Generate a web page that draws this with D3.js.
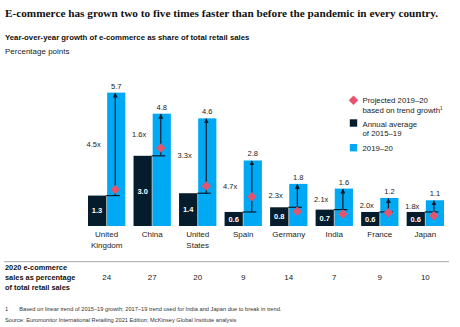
<!DOCTYPE html>
<html>
<head>
<meta charset="utf-8">
<script src="https://cdn.jsdelivr.net/npm/d3@7"></script>
<style>
  body { margin: 0; background: #fff; }
  svg { display: block; }
</style>
</head>
<body>
<svg id="chart" width="460" height="327"></svg>
<script>
// Data
const countries = [["United", "Kingdom"], ["China"], ["United", "States"], ["Spain"], ["Germany"], ["India"], ["France"], ["Japan"]];
const annualAvg = [1.3, 3.0, 1.4, 0.6, 0.8, 0.7, 0.6, 0.6];
const growth2020 = [5.7, 4.8, 4.6, 2.8, 1.8, 1.6, 1.2, 1.1];
const projected = [1.56, 3.33, 1.71, 1.25, 0.63, 0.51, 0.57, 0.44];
const multipliers = ["4.5x", "1.6x", "3.3x", "4.7x", "2.3x", "2.1x", "2.0x", "1.8x"];
const share2020 = [24, 27, 20, 9, 14, 7, 9, 10];

const width = 460;
const height = 327;
const sans = "'Liberation Sans', Arial, sans-serif";
const serif = "'Liberation Serif', 'Times New Roman', serif";
const darkColor = "#051c2c";
const blueColor = "#00a9f4";
const pinkColor = "#e5546c";
const textColor = "#222";

const svg = d3.select("#chart");
const keys = countries.map((c, i) => i);

// Scales
const x = d3.scaleBand()
  .domain(keys)
  .range([88, 444])
  .paddingInner(0.18)
  .paddingOuter(0);

const xInner = d3.scaleBand()
  .domain(["avg", "y2020"])
  .range([0, x.bandwidth()])
  .paddingInner(0.05);

const y = d3.scaleLinear()
  .domain([0, 6])
  .range([226, 226 - 6 * 23.4]);

// Title
svg.append("text")
  .attr("x", 5)
  .attr("y", 17)
  .attr("fill", "#111")
  .attr("font-family", serif)
  .attr("font-weight", "bold")
  .attr("font-size", 11.25)
  .text("E-commerce has grown two to five times faster than before the pandemic in every country.");

svg.append("text")
  .attr("x", 5)
  .attr("y", 39.5)
  .attr("fill", "#111")
  .attr("font-family", sans)
  .attr("font-weight", "bold")
  .attr("font-size", 7.8)
  .text("Year-over-year growth of e-commerce as share of total retail sales");

svg.append("text")
  .attr("x", 5)
  .attr("y", 53.5)
  .attr("fill", textColor)
  .attr("font-family", sans)
  .attr("font-size", 8)
  .text("Percentage points");

// Bars
const groups = svg.append("g")
  .selectAll("g")
  .data(keys)
  .join("g")
  .attr("transform", d => `translate(${x(d)},0)`);

// Light separator behind bars
groups.append("rect")
  .attr("x", xInner("avg") + xInner.bandwidth() - 0.5)
  .attr("y", d => y(annualAvg[d]))
  .attr("width", xInner.step() - xInner.bandwidth() + 1)
  .attr("height", d => y(0) - y(annualAvg[d]))
  .attr("fill", "#b9bfc4");

groups.append("rect")
  .attr("x", xInner("avg"))
  .attr("y", d => y(annualAvg[d]))
  .attr("width", xInner.bandwidth())
  .attr("height", d => y(0) - y(annualAvg[d]))
  .attr("fill", darkColor);

groups.append("rect")
  .attr("x", xInner("y2020"))
  .attr("y", d => y(growth2020[d]))
  .attr("width", xInner.bandwidth())
  .attr("height", d => y(0) - y(growth2020[d]))
  .attr("fill", blueColor);

// Value labels inside dark bars
groups.append("text")
  .attr("x", xInner("avg") + xInner.bandwidth() / 2)
  .attr("y", d => (y(annualAvg[d]) + y(0)) / 2 + 2.7)
  .attr("text-anchor", "middle")
  .attr("fill", "#fff")
  .attr("font-family", sans)
  .attr("font-weight", "bold")
  .attr("font-size", 7.5)
  .text(d => annualAvg[d].toFixed(1));

// Value labels above blue bars
groups.append("text")
  .attr("x", xInner("y2020") + xInner.bandwidth() / 2)
  .attr("y", d => y(growth2020[d]) - 4)
  .attr("text-anchor", "middle")
  .attr("fill", textColor)
  .attr("font-family", sans)
  .attr("font-size", 7.5)
  .text(d => growth2020[d].toFixed(1));

// Arrow marker
svg.append("defs").append("marker")
  .attr("id", "arrowHead")
  .attr("viewBox", "0 0 10 10")
  .attr("refX", 9)
  .attr("refY", 5)
  .attr("markerWidth", 5)
  .attr("markerHeight", 5)
  .attr("markerUnits", "userSpaceOnUse")
  .attr("orient", "auto")
  .append("path")
  .attr("d", "M0,0 L10,5 L0,10 Z")
  .attr("fill", darkColor);

const arrowX = xInner("y2020") + xInner.bandwidth() / 2 - 1;

// Horizontal tick at previous level
groups.append("line")
  .attr("x1", xInner("avg") + xInner.bandwidth())
  .attr("x2", arrowX + 4.5)
  .attr("y1", d => y(annualAvg[d]))
  .attr("y2", d => y(annualAvg[d]))
  .attr("stroke", darkColor)
  .attr("stroke-width", 1.2);

// Vertical arrow
groups.append("line")
  .attr("x1", arrowX)
  .attr("x2", arrowX)
  .attr("y1", d => y(annualAvg[d]))
  .attr("y2", d => y(growth2020[d]) + 0.5)
  .attr("stroke", darkColor)
  .attr("stroke-width", 1.2)
  .attr("marker-end", "url(#arrowHead)");

// Projected diamond
const diamond = d3.symbol().type(d3.symbolSquare).size(45);
groups.append("path")
  .attr("d", diamond)
  .attr("transform", d => `translate(${arrowX},${y(projected[d])}) rotate(45)`)
  .attr("fill", pinkColor);

// Multiplier labels
groups.append("text")
  .attr("x", -1.5)
  .attr("y", d => (y(annualAvg[d]) + y(growth2020[d])) / 2 + 2.6)
  .attr("fill", textColor)
  .attr("font-family", sans)
  .attr("font-size", 7.5)
  .text(d => multipliers[d]);

// Country labels
groups.append("text")
  .attr("x", x.bandwidth() / 2)
  .attr("y", 237)
  .attr("text-anchor", "middle")
  .attr("fill", textColor)
  .attr("font-family", sans)
  .attr("font-size", 8)
  .selectAll("tspan")
  .data(d => countries[d])
  .join("tspan")
  .attr("x", x.bandwidth() / 2)
  .attr("dy", (t, i) => i === 0 ? 0 : 10.6)
  .text(t => t);

// Divider
svg.append("line")
  .attr("x1", 4)
  .attr("x2", 449)
  .attr("y1", 261.7)
  .attr("y2", 261.7)
  .attr("stroke", "#a8a8a8")
  .attr("stroke-width", 1);

// Row label
svg.append("text")
  .attr("x", 5)
  .attr("y", 270)
  .attr("fill", "#111")
  .attr("font-family", sans)
  .attr("font-weight", "bold")
  .attr("font-size", 7.4)
  .selectAll("tspan")
  .data(["2020 e-commerce", "sales as percentage", "of total retail sales"])
  .join("tspan")
  .attr("x", 5)
  .attr("dy", (t, i) => i === 0 ? 0 : 10)
  .text(t => t);

// Share values
svg.append("g")
  .selectAll("text")
  .data(keys)
  .join("text")
  .attr("x", d => x(d) + x.bandwidth() / 2)
  .attr("y", 280)
  .attr("text-anchor", "middle")
  .attr("fill", textColor)
  .attr("font-family", sans)
  .attr("font-size", 8)
  .text(d => share2020[d]);

// Legend
const legend = svg.append("g").attr("transform", "translate(353.5,0)");
legend.append("path")
  .attr("d", diamond)
  .attr("transform", "translate(0,100.3) rotate(45)")
  .attr("fill", pinkColor);
legend.append("rect")
  .attr("x", -3.7).attr("y", 119.3)
  .attr("width", 7.4).attr("height", 7.4)
  .attr("fill", darkColor);
legend.append("rect")
  .attr("x", -3.7).attr("y", 144)
  .attr("width", 7.4).attr("height", 7.4)
  .attr("fill", blueColor);

const legendText = legend.append("text")
  .attr("fill", textColor)
  .attr("font-family", sans)
  .attr("font-size", 7.8);
legendText.append("tspan").attr("x", 9).attr("y", 103).text("Projected 2019–20");
legendText.append("tspan").attr("x", 9).attr("y", 112.6).text("based on trend growth");
legendText.append("tspan").attr("dy", -3).attr("font-size", 4.5).text("1");
legendText.append("tspan").attr("x", 9).attr("y", 126.7).text("Annual average");
legendText.append("tspan").attr("x", 9).attr("y", 136).text("of 2015–19");
legendText.append("tspan").attr("x", 9).attr("y", 150.7).text("2019–20");

// Footnotes
const noteStyle = sel => sel
  .attr("fill", "#333")
  .attr("font-family", sans)
  .attr("font-size", 5.7);
svg.append("text").attr("x", 5).attr("y", 311.2).call(noteStyle).text("1");
svg.append("text").attr("x", 19.3).attr("y", 311.2).call(noteStyle)
  .text("Based on linear trend of 2015–19 growth; 2017–19 trend used for India and Japan due to break in trend.");
svg.append("text").attr("x", 5).attr("y", 322).call(noteStyle)
  .text("Source: Euromonitor International Retailing 2021 Edition; McKinsey Global Institute analysis");
</script>
</body>
</html>
